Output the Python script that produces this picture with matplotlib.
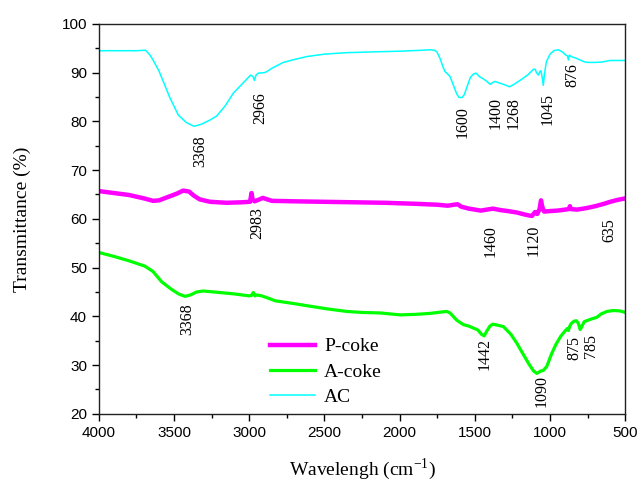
import matplotlib
matplotlib.use('Agg')
import matplotlib.pyplot as plt
from matplotlib.ticker import MultipleLocator

# FTIR spectra: wavenumber (cm-1) and transmittance (%)
ac_wn = [4000, 3860, 3750, 3690, 3660, 3640, 3600, 3572, 3530, 3472, 3420, 3368,
         3320, 3260, 3217, 3160, 3106, 3050, 2991, 2975, 2966, 2955, 2940, 2900,
         2884, 2850, 2774, 2700, 2618, 2500, 2352, 2130, 2000, 1850, 1798, 1770,
         1753, 1730, 1710, 1698, 1680, 1665, 1640, 1620, 1605, 1585, 1570, 1550,
         1530, 1510, 1492, 1470, 1443, 1420, 1398, 1380, 1365, 1340, 1300, 1270,
         1240, 1200, 1150, 1110, 1099, 1090, 1077, 1068, 1061, 1052, 1045, 1038,
         1025, 1000, 975, 946, 920, 895, 885, 878, 872, 860, 830, 800, 770, 746,
         700, 650, 600, 560, 500]
ac_t = [94.5, 94.5, 94.5, 94.6, 93.6, 92.6, 90.3, 88.2, 85.0, 81.3, 79.8, 79.0,
        79.4, 80.3, 81.1, 83.2, 85.8, 87.6, 89.5, 89.2, 88.4, 89.5, 89.9, 90.0,
        90.2, 90.9, 92.1, 92.7, 93.3, 93.8, 94.1, 94.3, 94.4, 94.6, 94.7, 94.6,
        94.3, 92.8, 91.0, 90.2, 89.7, 89.2, 87.2, 85.6, 84.9, 84.9, 85.5, 87.3,
        89.0, 89.7, 89.9, 89.2, 88.7, 88.2, 87.6, 88.0, 88.2, 87.9, 87.5, 87.1,
        87.6, 88.4, 89.5, 90.7, 90.7, 90.0, 89.5, 90.2, 90.4, 89.0, 87.4, 89.5,
        92.2, 93.8, 94.5, 94.7, 94.3, 93.6, 93.5, 92.6, 93.6, 93.3, 93.0, 92.6,
        92.2, 92.1, 92.1, 92.2, 92.5, 92.5, 92.5]

acoke_wn = [4000, 3900, 3800, 3694, 3640, 3583, 3520, 3470, 3428, 3390, 3350, 3306,
            3200, 3100, 3000, 2985, 2973, 2962, 2951, 2935, 2917, 2880, 2829, 2700,
            2600, 2474, 2350, 2252, 2130, 1997, 1900, 1800, 1720, 1687, 1665, 1620,
            1576, 1540, 1510, 1480, 1455, 1438, 1420, 1400, 1380, 1365, 1310, 1260,
            1221, 1180, 1140, 1110, 1088, 1060, 1045, 1022, 990, 960, 929, 900, 885,
            878, 870, 860, 840, 826, 812, 800, 790, 773, 740, 710, 689, 660, 622,
            580, 533, 500]
acoke_t = [53.1, 52.3, 51.4, 50.3, 49.2, 47.1, 45.6, 44.6, 44.1, 44.4, 45.0, 45.2,
           44.9, 44.6, 44.2, 44.3, 44.9, 44.2, 44.4, 44.3, 44.2, 43.8, 43.2, 42.6,
           42.1, 41.5, 41.0, 40.8, 40.7, 40.3, 40.4, 40.6, 40.9, 41.0, 40.7, 39.2,
           38.3, 38.0, 37.6, 37.2, 36.3, 36.0, 37.0, 38.0, 38.4, 38.3, 37.9, 36.3,
           34.5, 32.3, 30.2, 28.8, 28.3, 28.8, 28.9, 29.7, 32.3, 34.3, 35.9, 37.0,
           37.5, 37.1, 37.9, 38.5, 39.0, 39.1, 38.6, 37.3, 37.8, 38.9, 39.3, 39.6,
           39.8, 40.5, 41.0, 41.2, 41.1, 40.8]

pcoke_wn = [4000, 3900, 3800, 3700, 3640, 3600, 3540, 3480, 3440, 3400, 3370, 3330,
            3260, 3150, 3050, 2995, 2985, 2978, 2965, 2940, 2910, 2880, 2850, 2700,
            2500, 2300, 2100, 1900, 1750, 1680, 1640, 1615, 1590, 1540, 1500, 1460,
            1420, 1380, 1330, 1280, 1220, 1170, 1140, 1120, 1100, 1085, 1070, 1060,
            1052, 1040, 1000, 950, 900, 875, 868, 860, 820, 760, 700, 640, 600, 550,
            500]
pcoke_t = [65.7, 65.3, 64.9, 64.2, 63.7, 63.8, 64.5, 65.2, 65.8, 65.6, 64.8, 64.0,
           63.5, 63.3, 63.4, 63.5, 65.3, 64.0, 63.6, 63.9, 64.3, 64.0, 63.7, 63.6,
           63.5, 63.4, 63.3, 63.1, 62.9, 62.7, 62.9, 63.0, 62.5, 62.1, 61.9, 61.7,
           61.9, 62.1, 61.8, 61.6, 61.3, 60.9, 60.7, 60.6, 61.4, 61.0, 62.0, 63.8,
           62.5, 61.5, 61.6, 61.7, 61.9, 62.0, 62.6, 62.0, 61.9, 62.2, 62.6, 63.1,
           63.5, 63.9, 64.2]

# peak labels: text, x position, y position (data units)
ac_peaks = ['3368', '2966', '1600', '1400', '1268', '1045', '876']
ac_peak_x = [3328, 2929, 1578, 1365, 1239, 1019, 853]
ac_peak_y = [73.8, 82.8, 79.9, 81.7, 81.7, 82.5, 89.6]

pcoke_peaks = ['2983', '1460', '1120', '635']
pcoke_peak_x = [2949, 1392, 1106, 607]
pcoke_peak_y = [59.2, 55.5, 55.7, 57.7]

acoke_peaks = ['3368', '1442', '1090', '875', '785']
acoke_peak_x = [3415, 1438, 1059, 840, 727]
acoke_peak_y = [39.5, 32.3, 24.7, 33.5, 33.9]

serif = 'Liberation Serif'
plt.rcParams['font.family'] = 'Liberation Sans'
plt.rcParams['mathtext.fontset'] = 'custom'
plt.rcParams['mathtext.rm'] = serif

fig = plt.figure(figsize=(6.38, 4.88), dpi=100)
ax = fig.add_axes([0.155, 0.152, 0.825, 0.799])

ax.plot(pcoke_wn, pcoke_t, color='#ff00ff', lw=3.2, label='P-coke')
ax.plot(acoke_wn, acoke_t, color='#00ff00', lw=2.3, label='A-coke')
ax.plot(ac_wn, ac_t, color='#00ffff', lw=1.1, label='AC')

for labels, xs, ys in [(ac_peaks, ac_peak_x, ac_peak_y),
                       (pcoke_peaks, pcoke_peak_x, pcoke_peak_y),
                       (acoke_peaks, acoke_peak_x, acoke_peak_y)]:
    for s, x, y in zip(labels, xs, ys):
        ax.text(x, y, s, rotation=90, ha='center', va='center',
                fontsize=11.5, family=serif)

ax.set_xlim(4000, 500)
ax.set_ylim(20, 100)
ax.xaxis.set_major_locator(MultipleLocator(500))
ax.xaxis.set_minor_locator(MultipleLocator(250))
ax.yaxis.set_major_locator(MultipleLocator(10))
ax.yaxis.set_minor_locator(MultipleLocator(5))
ax.tick_params(which='both', direction='out', top=False, right=False,
               labelsize=11, width=1.0)
ax.tick_params(which='major', length=5)
ax.tick_params(which='minor', length=3)
for sp in ax.spines.values():
    sp.set_linewidth(1.0)
    sp.set_color('#222222')

ax.set_xlabel(r'Wavelengh (cm$^{\mathregular{-1}}$)', fontsize=14,
              family=serif, labelpad=12)
ax.set_ylabel('Transmittance (%)', fontsize=14, family=serif, labelpad=22)

ax.legend(loc='upper left', bbox_to_anchor=(0.31, 0.215), frameon=False,
          prop={'family': serif, 'size': 14}, handlelength=2.3,
          handletextpad=0.5, labelspacing=0.4, borderaxespad=0)

fig.savefig('out.png', dpi=100)
